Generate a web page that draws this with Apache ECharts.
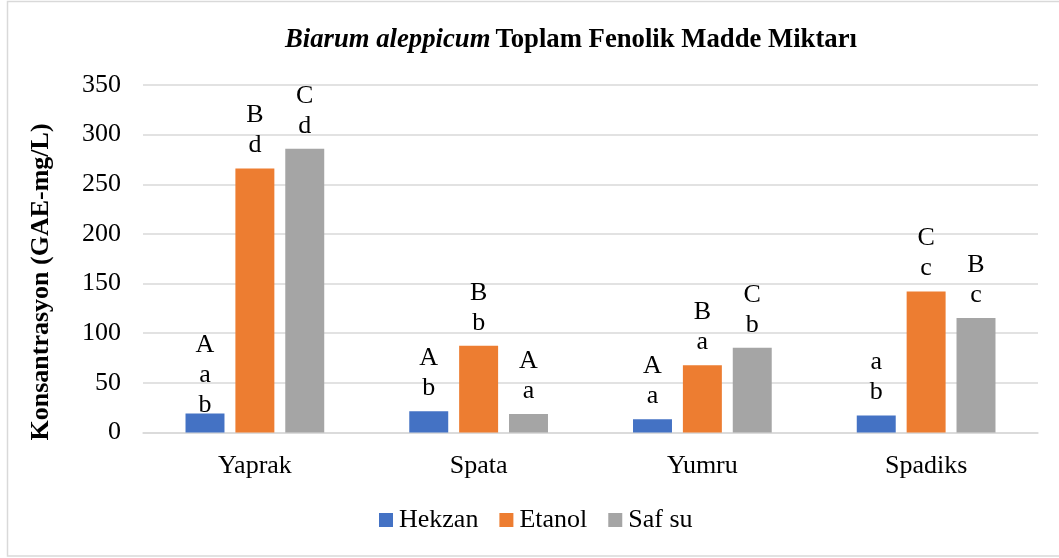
<!DOCTYPE html>
<html>
<head>
<meta charset="utf-8">
<script src="https://cdn.jsdelivr.net/npm/echarts@6/dist/echarts.min.js"></script>
<style>
html,body{margin:0;padding:0;background:#fff;}
#c{width:1059px;height:558px;}
</style>
</head>
<body>
<div id="c"></div>
<script>
const categories = ['Yaprak', 'Spata', 'Yumru', 'Spadiks'];
const seriesNames = ['Hekzan', 'Etanol', 'Saf su'];
const hekzan = [19.1, 21.5, 13.4, 17.1];
const etanol = [266, 87.3, 67.8, 142.1];
const safSu = [285.8, 18.7, 85.3, 115.2];
const hekzanLetters = ['A\na\nb', 'A\nb', 'A\na', 'a\nb'];
const etanolLetters = ['B\nd', 'B\nb', 'B\na', 'C\nc'];
const safSuLetters = ['C\nd', 'A\na', 'C\nb', 'B\nc'];
const yTicks = [0, 50, 100, 150, 200, 250, 300, 350];
const colors = ['#4472C4', '#ED7D31', '#A5A5A5'];
const yAxisTitle = 'Konsantrasyon (GAE-mg/L)';

const FONT = '"Liberation Serif", "Times New Roman", serif';

function mkSeries(name, values, letters, color) {
  return {
    name: name,
    type: 'bar',
    data: values.map(function (v, i) {
      const lines = letters[i].split('\n').length;
      return { value: v, label: { distance: lines > 2 ? -7 : 8 } };
    }),
    barGap: '28%',
    barCategoryGap: '38%',
    itemStyle: { color: color },
    label: {
      show: true,
      position: 'top',
      formatter: function (p) { return letters[p.dataIndex]; },
      fontFamily: FONT,
      fontSize: 26,
      lineHeight: 30,
      color: '#000'
    }
  };
}

const chart = echarts.init(document.getElementById('c'), null, { renderer: 'canvas' });
chart.setOption({
  backgroundColor: '#fff',
  animation: false,
  color: colors,
  graphic: [{
    type: 'rect',
    shape: { x: 7.5, y: 1.5, width: 1053, height: 554.5 },
    style: { fill: 'none', stroke: '#d9d9d9', lineWidth: 1.5 },
    silent: true
  }, {
    type: 'text',
    x: 41,
    y: 282,
    rotation: Math.PI / 2,
    style: {
      text: yAxisTitle,
      fontFamily: FONT,
      fontSize: 26,
      fontWeight: 'bold',
      fill: '#000',
      align: 'center',
      verticalAlign: 'middle'
    },
    silent: true
  }],
  title: {
    text: '{i|Biarum aleppicum} {b|Toplam Fenolik Madde Miktarı}',
    left: 566,
    textAlign: 'center',
    top: 22,
    textStyle: {
      rich: {
        i: { fontFamily: FONT, fontSize: 26.7, fontStyle: 'italic', fontWeight: 'bold', color: '#000' },
        b: { fontFamily: FONT, fontSize: 26.7, fontWeight: 'bold', color: '#000' }
      }
    }
  },
  legend: {
    data: seriesNames,
    left: 379,
    top: 507,
    padding: 0,
    itemWidth: 14,
    itemHeight: 14,
    itemGap: 21,
    icon: 'rect',
    textStyle: { fontFamily: FONT, fontSize: 26, color: '#000', padding: [0, 0, 0, 1] }
  },
  grid: { left: 143, right: 21, top: 85, bottom: 125.5, containLabel: false },
  xAxis: {
    type: 'category',
    data: categories,
    axisLine: { show: true, lineStyle: { color: '#d9d9d9', width: 1.5 } },
    axisTick: { show: false },
    axisLabel: { fontFamily: FONT, fontSize: 26, color: '#000', margin: 21 }
  },
  yAxis: {
    type: 'value',
    min: yTicks[0],
    max: yTicks[yTicks.length - 1],
    interval: 50,
    axisLine: { show: false },
    axisTick: { show: false },
    splitLine: { lineStyle: { color: '#d9d9d9', width: 1.5 } },
    axisLabel: { fontFamily: FONT, fontSize: 26, color: '#000', margin: 22 }
  },
  series: [
    mkSeries(seriesNames[0], hekzan, hekzanLetters, colors[0]),
    mkSeries(seriesNames[1], etanol, etanolLetters, colors[1]),
    mkSeries(seriesNames[2], safSu, safSuLetters, colors[2])
  ]
});
</script>
</body>
</html>
